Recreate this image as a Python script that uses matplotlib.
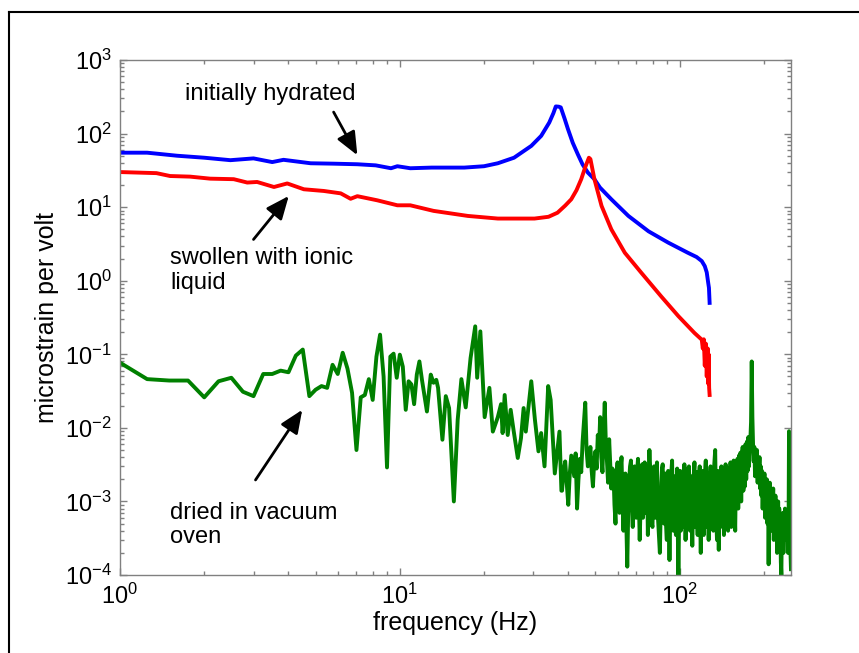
import numpy as np
import matplotlib
matplotlib.use("Agg")
import matplotlib.pyplot as plt
from matplotlib.lines import Line2D

plt.rcParams['font.family'] = ['Liberation Sans', 'DejaVu Sans']
plt.rcParams['mathtext.fontset'] = 'custom'
plt.rcParams['mathtext.rm'] = 'Liberation Sans'
plt.rcParams['mathtext.it'] = 'Liberation Sans:italic'

# --- Data: response spectra (frequency in Hz, microstrain per volt) ---
hydrated_freq = [1.0, 1.25, 1.6, 2.0, 2.48, 3.0, 3.5, 3.84, 4.8, 5.8, 7.05, 8.2, 9.3, 9.8,
                 10.9, 13.0, 17.0, 20.0, 22.4, 25.6, 29.5, 32.0, 34.2, 35.4, 36.1, 37.0,
                 37.6, 38.8, 39.9, 41.5, 43.3, 45.0, 47.0, 49.6, 51.9, 57.0, 65.6, 77.4,
                 91.0, 107.0, 115.0, 120.0, 123.0, 125.0, 126.5, 127.3, 128.0]
hydrated_val = [55, 55, 50, 47, 43.5, 46, 41, 44, 39.5, 39, 38.3, 37, 33.8, 36,
                33.8, 34.5, 34.5, 36, 39.5, 47, 68, 93, 141, 190, 234, 232,
                227, 160, 115, 75, 52, 38, 29.5, 24, 18.5, 12.8, 7.6, 4.7,
                3.3, 2.4, 2.1, 1.85, 1.58, 1.3, 0.94, 0.8, 0.5]

ionic_freq = [1.0, 1.35, 1.51, 1.78, 2.1, 2.55, 2.85, 3.09, 3.55, 3.96, 4.54, 5.35, 6.15,
              6.67, 7.05, 8.3, 9.8, 10.9, 13.2, 17.5, 22.4, 30.3, 34.0, 36.6, 39.0, 41.0,
              42.8, 44.5, 46.0, 47.4, 48.0, 49.6, 52.6, 57.0, 63.7, 73.0, 86.0, 99.0,
              113.0, 120.0, 121.0, 122.0, 123.0, 124.0, 125.0, 126.0, 126.5, 127.0,
              127.5, 128.0]
ionic_val = [30, 29, 26.5, 26, 24.4, 24, 21.6, 22, 18.8, 21, 17.5, 16.6, 15.4,
             13, 14.1, 12.4, 10.6, 10.6, 8.9, 7.6, 7.0, 7.0, 7.4, 8.4, 10.5, 12.8,
             17, 24, 35, 47, 45, 24, 10.4, 5.0, 2.4, 1.28, 0.61, 0.33,
             0.195, 0.158, 0.12, 0.16, 0.07, 0.14, 0.05, 0.12, 0.04, 0.1,
             0.035, 0.028]

# dried sample, low-frequency part
dried_freq_lo = [1.0, 1.25, 1.5, 1.75, 2.0, 2.25, 2.5, 2.75, 3.0, 3.25, 3.5, 3.75, 4.0,
                 4.25, 4.5, 4.75, 5.0, 5.25, 5.5, 5.75, 6.0, 6.25, 6.5, 6.75, 7.0, 7.25,
                 7.5, 7.75, 8.0, 8.25, 8.5, 8.75, 9.0, 9.25, 9.5, 9.75, 10.0, 10.25,
                 10.5, 10.75, 11.0, 11.25, 11.5, 11.75, 12.0, 12.5, 12.9, 13.2, 13.5,
                 13.7, 14.2, 14.6, 15.0, 15.6, 16.1, 16.6, 17.2, 17.9, 18.6, 18.9, 19.4,
                 20.1, 20.9, 21.5, 22.4, 23.0, 23.3, 23.7, 24.3, 24.9, 25.5, 26.4, 27.1,
                 27.7, 28.2, 29.5, 30.4, 31.3, 32.0, 32.9, 33.9, 34.6, 35.8, 37.2, 37.8]
dried_val_lo = [0.077, 0.046, 0.044, 0.044, 0.026, 0.043, 0.048, 0.031, 0.027, 0.054,
                0.054, 0.060, 0.057, 0.096, 0.116, 0.027, 0.033, 0.037, 0.035, 0.072,
                0.054, 0.105, 0.064, 0.03, 0.005, 0.026, 0.028, 0.046, 0.024, 0.093,
                0.185, 0.05, 0.0029, 0.093, 0.102, 0.048, 0.099, 0.068, 0.0176, 0.043,
                0.039, 0.021, 0.053, 0.08, 0.045, 0.0167, 0.053, 0.041, 0.045, 0.035,
                0.0069, 0.027, 0.0186, 0.001, 0.0129, 0.046, 0.019, 0.089, 0.24, 0.048,
                0.205, 0.014, 0.035, 0.0089, 0.014, 0.021, 0.0085, 0.028, 0.008, 0.0176,
                0.0093, 0.0039, 0.0072, 0.0186, 0.0089, 0.043, 0.0129, 0.0048, 0.0085,
                0.003, 0.037, 0.024, 0.0024, 0.0089, 0.0014]

# dried sample, 38-119.5 Hz in 0.5 Hz bins (units of 1e-3)
dried_freq_mid = np.arange(38.0, 120.0, 0.5)
dried_val_mid_milli = [
    1.4, 2.6, 3.5, 1.8, 0.9, 2.4, 4.2, 3.0, 2.2, 4.5,           # 38-42.5
    0.8, 2.0, 3.8, 2.5, 6.5, 12, 22, 5.0, 3.0, 4.2,             # 43-47.5
    5.5, 2.6, 1.6, 3.4, 4.8, 2.8, 8.0, 5.0, 14, 4.0,            # 48-52.5
    2.5, 9.0, 22, 6.0, 3.5, 1.8, 7.0, 3.2, 1.5, 2.8,            # 53-57.5
    2.6, 0.9, 0.5, 2.2, 3.4, 1.2, 0.7, 2.8, 4.0, 1.0,           # 58-62.5
    0.4, 1.6, 2.4, 0.5, 0.13, 0.7, 1.9, 3.0, 3.6, 0.9,          # 63-67.5
    0.45, 2.0, 3.0, 0.8, 0.6, 2.6, 3.8, 1.0, 0.3, 0.8,          # 68-72.5
    2.2, 3.2, 0.6, 1.0, 3.4, 1.2, 0.7, 2.8, 0.35, 2.4,          # 73-77.5
    5.0, 2.8, 0.9, 0.5, 0.45, 2.0, 3.0, 0.8, 0.6, 2.6,          # 78-82.5
    3.4, 0.7, 0.45, 0.3, 0.2, 0.6, 1.8, 2.8, 3.2, 0.9,          # 83-87.5
    0.5, 1.6, 2.4, 0.45, 0.3, 1.8, 2.6, 0.5, 0.16, 0.5,         # 88-92.5
    1.5, 2.6, 3.6, 0.8, 0.4, 1.6, 2.2, 0.5, 0.35, 1.7,          # 93-97.5
    2.8, 0.4, 0.1, 0.4, 1.8, 2.6, 0.4, 1.5, 2.4, 0.6,           # 98-102.5
    0.45, 2.0, 3.2, 0.8, 0.3, 0.6, 2.0, 2.8, 0.6, 1.8,          # 103-107.5
    3.0, 0.7, 0.4, 1.7, 2.2, 0.5, 0.25, 0.7, 1.9, 2.6,          # 108-112.5
    3.4, 0.9, 0.45, 1.8, 2.5, 0.6, 0.35, 1.6, 1.8, 2.4,         # 113-117.5
    3.0, 0.5, 0.2, 0.5,                                         # 118-119.5
]

# dried sample, 120-250 Hz in 1 Hz bins (units of 1e-3)
dried_freq_hi = np.arange(120, 251)
dried_val_hi_milli = [
    1.5, 2.6, 0.35, 2.0, 3.6, 0.45, 2.4, 0.3,                   # 120-127
    1.8, 3.0, 0.5, 2.2, 0.4, 3.2, 5.0, 0.7, 0.3, 2.6,           # 128-137
    0.22, 1.9, 0.45, 3.0, 0.6, 2.4, 0.35, 1.9, 3.2, 0.5,        # 138-147
    2.2, 0.4, 2.8, 0.7, 3.4, 0.45, 2.4, 0.6, 3.6, 0.9,          # 148-157
    0.4, 3.0, 0.9, 3.8, 0.8, 4.2, 1.2, 4.6, 1.0, 4.0,           # 158-167
    5.5, 1.4, 5.0, 1.6, 6.0, 2.0, 6.5, 2.6, 7.5, 3.0,           # 168-177
    5.5, 7.0, 12, 80, 14, 6.0, 3.5, 5.5, 2.2, 4.5,              # 178-187
    2.8, 5.0, 1.8, 3.6, 2.4, 4.0, 1.5, 3.0, 1.2, 2.6,           # 188-197
    0.8, 2.0, 1.1, 2.4, 0.6, 1.6, 0.9, 2.0, 0.5, 1.4,           # 198-207
    0.14, 1.0, 1.8, 0.6, 1.3, 0.4, 1.1, 0.7, 1.5, 0.3,          # 208-217
    0.9, 0.5, 1.2, 0.35, 0.8, 0.2, 0.7, 1.0, 0.4, 0.8,          # 218-227
    0.25, 0.6, 0.15, 0.1, 0.5, 0.3, 0.7, 0.2, 0.5, 0.3,         # 228-237
    0.8, 0.4, 0.6, 0.5, 0.3, 0.6, 0.2, 0.3, 9.0, 0.2,           # 238-247
    0.35, 0.2, 0.12,                                            # 248-250
]

dried_freq = np.concatenate([dried_freq_lo, dried_freq_mid, dried_freq_hi])
dried_val = np.concatenate([dried_val_lo,
                            np.array(dried_val_mid_milli) * 1e-3,
                            np.array(dried_val_hi_milli) * 1e-3])

# --- Figure ---
fig = plt.figure(figsize=(8.59, 6.53), dpi=100)
ax = fig.add_axes([0.1397, 0.1194, 0.7811, 0.7887])

LW = 2.8
ax.loglog(hydrated_freq, hydrated_val, color='#0000ff', lw=LW)
ax.loglog(ionic_freq, ionic_val, color='#ff0000', lw=LW)
ax.loglog(dried_freq, dried_val, color='#008000', lw=LW)

ax.set_xlim(1, 250)
ax.set_ylim(1e-4, 1e3)
ax.set_yticks([10.0 ** k for k in range(-4, 4)])
ax.set_xticks([1, 10, 100])

grey = '#808080'
for s in ax.spines.values():
    s.set_color(grey)
    s.set_linewidth(1.0)
ax.tick_params(which='both', direction='in', top=True, right=True, color=grey,
               labelsize=17, labelcolor='black')
ax.tick_params(which='major', length=5, width=1, pad=6)
ax.tick_params(which='minor', length=3, width=1)

ax.set_xlabel('frequency (Hz)', fontsize=18, labelpad=2)
ax.set_ylabel('microstrain per volt', fontsize=18, labelpad=4)

# curve annotations
arrow = dict(arrowstyle='-|>,head_length=0.7,head_width=0.3', color='black',
             lw=2, mutation_scale=20, shrinkA=0, shrinkB=0)
ax.annotate('', xy=(7.05, 50.8), xytext=(5.8, 196), arrowprops=arrow)
ax.annotate('', xy=(4.01, 14.2), xytext=(3.0, 3.64), arrowprops=arrow)
ax.annotate('', xy=(4.48, 0.0176), xytext=(3.05, 0.00196), arrowprops=arrow)

ax.text(1.71, 344, 'initially hydrated', fontsize=17, ha='left', va='center')
ax.text(1.51, 1.38, 'swollen with ionic\nliquid', fontsize=17, ha='left',
        va='center', linespacing=1.15)
ax.text(1.51, 4.8e-4, 'dried in vacuum\noven', fontsize=17, ha='left',
        va='center', linespacing=1.15)

# outer frame (left and top edges)
fig.add_artist(Line2D([0.0105, 0.0105], [0.0, 0.9816], color='black', lw=1.5,
                      transform=fig.transFigure))
fig.add_artist(Line2D([0.0105, 1.0], [0.9816, 0.9816], color='black', lw=1.5,
                      transform=fig.transFigure))

fig.savefig('out.png', dpi=100)
